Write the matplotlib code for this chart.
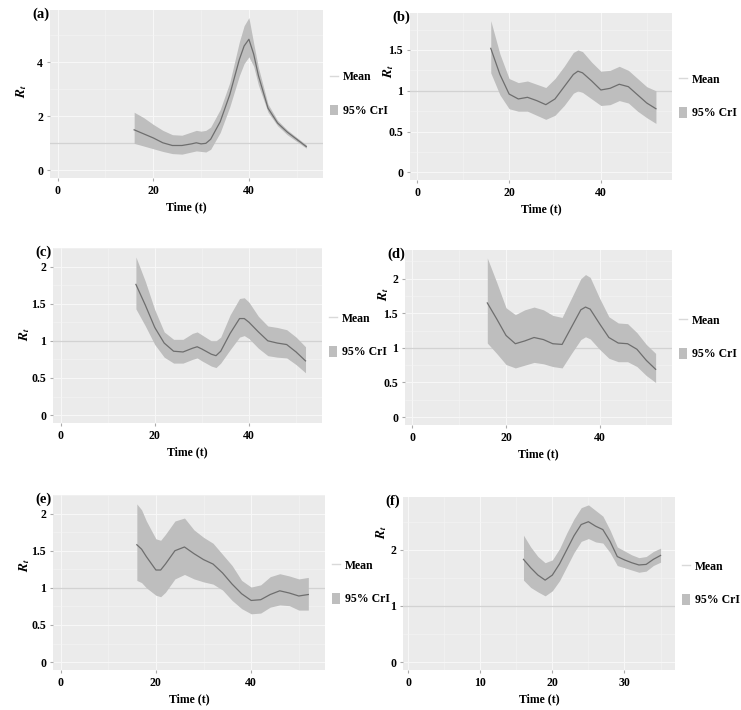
import matplotlib.pyplot as plt
import numpy as np
from matplotlib.lines import Line2D
from matplotlib.patches import Patch


plt.rcParams["font.family"] = ["Liberation Serif", "DejaVu Serif"]
plt.rcParams["font.weight"] = "bold"
plt.rcParams["mathtext.fontset"] = "stix"

# (a)
t_a = [16, 18, 20, 22, 24, 26, 28, 29, 30, 31, 32, 34, 36, 38, 39, 40, 41, 42, 44, 46, 48, 50, 52]
mean_a = [1.5, 1.35, 1.2, 1.02, 0.92, 0.92, 0.98, 1.02, 0.98, 1.0, 1.15, 1.8, 2.8, 4.1, 4.6, 4.85, 4.3, 3.5, 2.3, 1.75, 1.42, 1.15, 0.88]
lo_a = [1.0, 0.9, 0.8, 0.7, 0.62, 0.6, 0.68, 0.72, 0.7, 0.68, 0.78, 1.4, 2.35, 3.5, 3.95, 4.2, 3.85, 3.15, 2.15, 1.65, 1.32, 1.07, 0.82]
hi_a = [2.15, 1.95, 1.7, 1.48, 1.32, 1.3, 1.42, 1.48, 1.45, 1.48, 1.6, 2.25, 3.25, 4.75, 5.35, 5.65, 4.7, 3.8, 2.45, 1.85, 1.5, 1.22, 0.95]

# (b)
t_b = [16, 18, 20, 22, 24, 26, 28, 30, 32, 34, 35, 36, 38, 40, 42, 44, 46, 48, 50, 52]
mean_b = [1.52, 1.2, 0.96, 0.9, 0.92, 0.88, 0.83, 0.9, 1.05, 1.2, 1.24, 1.22, 1.12, 1.01, 1.03, 1.08, 1.05, 0.95, 0.85, 0.78]
lo_b = [1.22, 0.95, 0.78, 0.75, 0.75, 0.7, 0.65, 0.7, 0.82, 0.97, 1.0, 0.98, 0.9, 0.82, 0.83, 0.88, 0.85, 0.75, 0.67, 0.6]
hi_b = [1.86, 1.45, 1.15, 1.1, 1.12, 1.08, 1.04, 1.15, 1.3, 1.47, 1.5, 1.48, 1.35, 1.24, 1.25, 1.3, 1.25, 1.15, 1.05, 1.0]

# (c)
t_c = [16, 18, 20, 22, 24, 26, 28, 29, 30, 32, 33, 34, 36, 38, 39, 40, 42, 44, 46, 48, 50, 52]
mean_c = [1.76, 1.48, 1.18, 0.97, 0.86, 0.85, 0.9, 0.92, 0.89, 0.82, 0.8, 0.86, 1.1, 1.3, 1.3, 1.25, 1.12, 1.0, 0.97, 0.95, 0.85, 0.73]
lo_c = [1.43, 1.2, 0.95, 0.78, 0.7, 0.7, 0.75, 0.77, 0.73, 0.66, 0.64, 0.7, 0.88, 1.05, 1.07, 1.03, 0.9, 0.8, 0.78, 0.77, 0.68, 0.57]
hi_c = [2.13, 1.8, 1.42, 1.12, 1.02, 1.02, 1.1, 1.12, 1.08, 1.0, 1.0, 1.05, 1.35, 1.57, 1.58, 1.52, 1.33, 1.2, 1.18, 1.15, 1.05, 0.92]

# (d)
t_d = [16, 18, 20, 22, 24, 26, 28, 30, 32, 34, 36, 37, 38, 40, 42, 44, 46, 48, 50, 52]
mean_d = [1.65, 1.42, 1.18, 1.06, 1.1, 1.15, 1.12, 1.06, 1.05, 1.3, 1.55, 1.59, 1.56, 1.35, 1.15, 1.07, 1.06, 0.98, 0.82, 0.69]
lo_d = [1.07, 0.92, 0.76, 0.71, 0.75, 0.79, 0.77, 0.73, 0.71, 0.92, 1.12, 1.16, 1.13, 0.98, 0.85, 0.8, 0.8, 0.73, 0.6, 0.5]
hi_d = [2.3, 1.95, 1.58, 1.48, 1.55, 1.59, 1.55, 1.47, 1.44, 1.72, 2.0, 2.06, 2.02, 1.72, 1.45, 1.36, 1.35, 1.22, 1.05, 0.92]

# (e)
t_e = [16, 17, 18, 20, 21, 22, 24, 26, 28, 30, 32, 34, 36, 38, 40, 42, 44, 46, 48, 50, 52]
mean_e = [1.58, 1.52, 1.42, 1.24, 1.24, 1.32, 1.5, 1.55, 1.46, 1.38, 1.32, 1.2, 1.05, 0.92, 0.83, 0.84, 0.91, 0.96, 0.93, 0.89, 0.91]
lo_e = [1.1, 1.07, 1.0, 0.9, 0.88, 0.94, 1.12, 1.18, 1.12, 1.08, 1.05, 0.97, 0.83, 0.72, 0.65, 0.66, 0.74, 0.77, 0.76, 0.7, 0.7]
hi_e = [2.13, 2.05, 1.9, 1.66, 1.64, 1.72, 1.9, 1.94, 1.78, 1.68, 1.6, 1.45, 1.3, 1.1, 1.01, 1.04, 1.15, 1.19, 1.16, 1.12, 1.14]

# (f)
t_f = [16, 17, 18, 19, 20, 21, 22, 23, 24, 25, 26, 27, 28, 29, 30, 31, 32, 33, 34, 35]
mean_f = [1.83, 1.68, 1.55, 1.46, 1.55, 1.75, 2.0, 2.25, 2.45, 2.5, 2.42, 2.36, 2.15, 1.88, 1.82, 1.77, 1.73, 1.74, 1.83, 1.9]
lo_f = [1.46, 1.33, 1.25, 1.18, 1.27, 1.45, 1.7, 1.95, 2.15, 2.2, 2.14, 2.12, 1.95, 1.72, 1.68, 1.64, 1.6, 1.62, 1.72, 1.78]
hi_f = [2.26, 2.05, 1.88, 1.77, 1.82, 2.02, 2.3, 2.55, 2.75, 2.8, 2.7, 2.6, 2.35, 2.05, 1.98, 1.91, 1.86, 1.88, 1.97, 2.03]

panel_labels = ["(a)", "(b)", "(c)", "(d)", "(e)", "(f)"]
series = [
    (t_a, mean_a, lo_a, hi_a),
    (t_b, mean_b, lo_b, hi_b),
    (t_c, mean_c, lo_c, hi_c),
    (t_d, mean_d, lo_d, hi_d),
    (t_e, mean_e, lo_e, hi_e),
    (t_f, mean_f, lo_f, hi_f),
]
yticks = [[0, 2, 4], [0, 0.5, 1, 1.5], [0, 0.5, 1, 1.5, 2],
          [0, 0.5, 1, 1.5, 2], [0, 0.5, 1, 1.5, 2], [0, 1, 2]]

# layout in pixels: left, top, right, bottom
boxes = [(50, 10, 323, 178), (410, 13, 672, 180),
         (53, 248, 322, 423), (405, 250, 672, 425),
         (53, 495, 325, 670), (403, 497, 675, 670)]
ylab_y = [0.52, 0.65, 0.51, 0.75, 0.60, 0.80]

W, H = 741, 710
fig = plt.figure(figsize=(W / 100, H / 100), dpi=100)

for i, (t, mean, lo, hi) in enumerate(series):
    l, top, r, b = boxes[i]
    ax = fig.add_axes([l / W, (H - b) / H, (r - l) / W, (b - top) / H])
    ax.set_facecolor("#EBEBEB")
    for s in ax.spines.values():
        s.set_visible(False)

    if i < 5:
        ax.set_xlim(-1.6, 55.5)
        ax.set_xticks([0, 20, 40])
        ax.set_xticks([10, 30, 50], minor=True)
    else:
        ax.set_xlim(-0.7, 37)
        ax.set_xticks([0, 10, 20, 30])
        ax.set_xticks([5, 15, 25, 35], minor=True)

    top_val = max(hi)
    ax.set_ylim(-0.05 * top_val, 1.05 * top_val)
    ax.set_yticks(yticks[i])
    ax.set_yticklabels([f"{v:g}" for v in yticks[i]])
    mids = [(a + c) / 2 for a, c in zip(yticks[i][:-1], yticks[i][1:])]
    mids.append(yticks[i][-1] + (yticks[i][1] - yticks[i][0]) / 2)
    ax.set_yticks(mids, minor=True)

    ax.grid(which="major", color="#F7F7F7", lw=0.8)
    ax.grid(which="minor", color="#F4F4F4", lw=0.4)
    ax.set_axisbelow(True)
    ax.tick_params(which="major", length=2, color="#AAAAAA", labelsize=8.5, pad=3)
    ax.tick_params(which="minor", length=0)

    ax.axhline(1, color="#D2D2D2", lw=0.9, zorder=1)
    ax.fill_between(t, lo, hi, color="#BEBEBE", lw=0, zorder=2)
    ax.plot(t, mean, color="#6E6E6E", lw=0.9, zorder=3)

    ax.set_xlabel("Time (t)", fontsize=8.5, fontweight="bold", labelpad=3)
    ax.set_ylabel(r"$R_t$", fontsize=9.5)
    off = -21 if i % 2 == 0 else -14
    ax.yaxis.set_label_coords(off / (r - l), ylab_y[i])

    handles = [Line2D([0], [0], color="#D9D9D9", lw=1.0),
               Patch(facecolor="#BEBEBE", edgecolor="none")]
    ax.legend(handles, ["Mean", "95% CrI"], loc="center left",
              bbox_to_anchor=(1.0, 0.5), frameon=False, fontsize=8.5,
              handlelength=0.7, handleheight=1.0, handletextpad=0.4,
              labelspacing=1.8, borderaxespad=0.2)

    fig.text((l - 18) / W, (H - top - 4) / H, panel_labels[i],
             fontsize=10.5, fontweight="bold", ha="left", va="center")

fig.savefig("out.png", dpi=100)
